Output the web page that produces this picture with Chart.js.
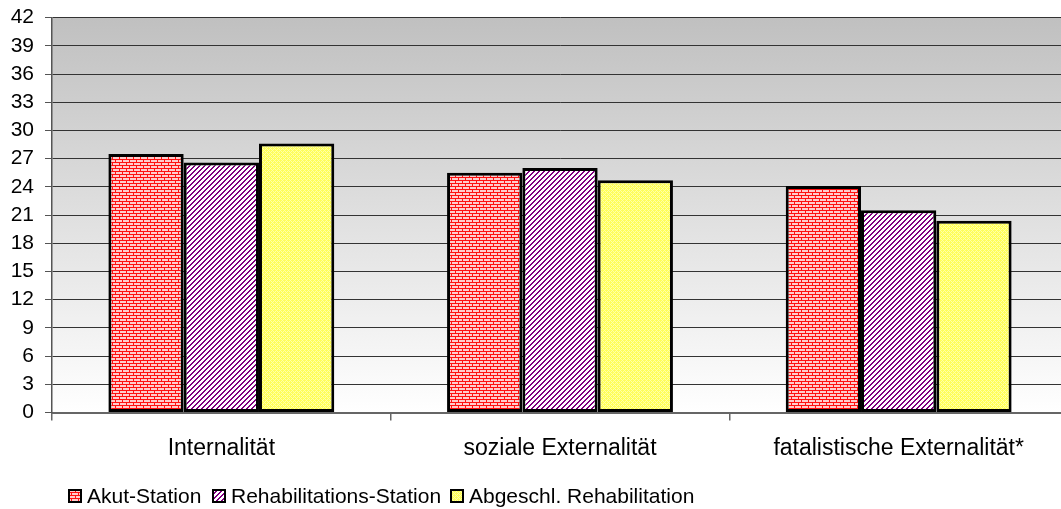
<!DOCTYPE html>
<html>
<head>
<meta charset="utf-8">
<script src="https://cdn.jsdelivr.net/npm/chart.js@4.4.0/dist/chart.umd.min.js"></script>
<style>
  html, body { margin: 0; padding: 0; background: #fff; overflow: hidden; }
  #wrap { position: relative; top: -6px; width: 1068px; height: 515px; }
  .leg { position: absolute; top: 491px; height: 21px; font: 21px Arial, "Liberation Sans", sans-serif; color: #000; white-space: nowrap; }
  .leg canvas { position: absolute; left: 0; top: 4px; }
  .leg span { position: absolute; left: 19px; top: 0; line-height: 21px; }
</style>
</head>
<body>
<div id="wrap">
  <canvas id="chart"></canvas>
  <div id="legend"></div>
</div>
<script>
// Kontrollüberzeugungen nach Behandlungsphase
const categories = ["Internalität", "soziale Externalität", "fatalistische Externalität*"];
const seriesNames = ["Akut-Station", "Rehabilitations-Station", "Abgeschl. Rehabilitation"];
const akutStation = [27.5, 25.5, 24.1];
const rehaStation = [26.6, 26.0, 21.5];
const abgeschlReha = [28.6, 24.7, 20.4];
const yMin = 0, yMax = 42, yStep = 3;

const FONT = "Arial, 'Liberation Sans', sans-serif";

// little tiles, like the old Excel fill patterns
function makeTile(w, h, draw) {
  const c = document.createElement("canvas");
  c.width = w; c.height = h;
  draw(c.getContext("2d"));
  return c;
}

function brickTile() {
  return makeTile(7, 6, g => {
    g.fillStyle = "#ffcccc"; g.fillRect(0, 0, 7, 6);
    g.fillStyle = "#ff1010";
    g.fillRect(0, 0, 7, 1);
    g.fillRect(0, 3, 7, 1);
    g.fillRect(0, 1, 1, 2);
    g.fillRect(3, 4, 1, 2);
  });
}

function stripeTile() {
  return makeTile(5, 5, g => {
    g.fillStyle = "#ffffff"; g.fillRect(0, 0, 5, 5);
    g.fillStyle = "#800080";
    for (let x = 0; x < 5; x++)
      for (let y = 0; y < 5; y++)
        if ((x + y) % 5 < 2) g.fillRect(x, y, 1, 1);
  });
}

function latticeTile() {
  return makeTile(4, 4, g => {
    g.fillStyle = "#ffff58"; g.fillRect(0, 0, 4, 4);
    g.fillStyle = "#ffffa8";
    for (let x = 0; x < 4; x++)
      for (let y = 0; y < 4; y++)
        if ((x + y) % 4 === 0 || (x - y + 4) % 4 === 0) g.fillRect(x, y, 1, 1);
  });
}

const canvas = document.getElementById("chart");
const ctx = canvas.getContext("2d");
const tiles = [brickTile(), stripeTile(), latticeTile()];
const fills = tiles.map(t => ctx.createPattern(t, "repeat"));

// gray-to-white plot background
const plotBackground = {
  id: "plotBackground",
  beforeDraw(chart) {
    const { ctx, chartArea: a } = chart;
    const grad = ctx.createLinearGradient(0, a.top, 0, a.bottom);
    grad.addColorStop(0, "#c0c0c0");
    grad.addColorStop(1, "#ffffff");
    ctx.save();
    ctx.fillStyle = grad;
    ctx.fillRect(a.left, a.top, a.right - a.left, a.bottom - a.top);
    ctx.restore();
  }
};

const seriesData = [akutStation, rehaStation, abgeschlReha];

new Chart(ctx, {
  type: "bar",
  data: {
    labels: categories,
    datasets: seriesNames.map((name, i) => ({
      label: name,
      data: seriesData[i],
      backgroundColor: fills[i],
      borderColor: "#000",
      borderWidth: 3,
      borderSkipped: false,
      categoryPercentage: 0.667,
      barPercentage: 1
    }))
  },
  options: {
    responsive: true,
    maintainAspectRatio: false,
    animation: false,
    layout: { padding: { top: 12, right: 0, bottom: 0, left: 0 } },
    plugins: {
      legend: { display: false },
      tooltip: { enabled: false }
    },
    scales: {
      x: {
        offset: true,
        grid: { offset: true, drawOnChartArea: false, drawTicks: true, tickLength: 8, color: "#666", lineWidth: 1.5 },
        border: { color: "#666", width: 2 },
        ticks: { color: "#000", font: { family: FONT, size: 23 }, padding: 14 },
        afterFit(scale) { scale.height = 96.5; }
      },
      y: {
        min: yMin,
        max: yMax,
        grid: { color: "#333", lineWidth: 1, tickLength: 7, tickColor: "#555" },
        border: { color: "#555", width: 1.5 },
        ticks: { stepSize: yStep, autoSkip: false, color: "#000", font: { family: FONT, size: 21 }, padding: 11 },
        afterFit(scale) { scale.width = 52; }
      }
    }
  },
  plugins: [plotBackground]
});

// legend row under the chart
const legendLeft = [68, 212, 450];
const legend = document.getElementById("legend");
seriesNames.forEach((name, i) => {
  const item = document.createElement("div");
  item.className = "leg";
  item.style.left = legendLeft[i] + "px";
  const sw = document.createElement("canvas");
  sw.width = 14; sw.height = 14;
  const g = sw.getContext("2d");
  g.fillStyle = g.createPattern(tiles[i], "repeat");
  g.fillRect(0, 0, 14, 14);
  g.strokeStyle = "#000";
  g.lineWidth = 2;
  g.strokeRect(1, 1, 12, 12);
  const txt = document.createElement("span");
  txt.textContent = name;
  item.appendChild(sw);
  item.appendChild(txt);
  legend.appendChild(item);
});
</script>
</body>
</html>
